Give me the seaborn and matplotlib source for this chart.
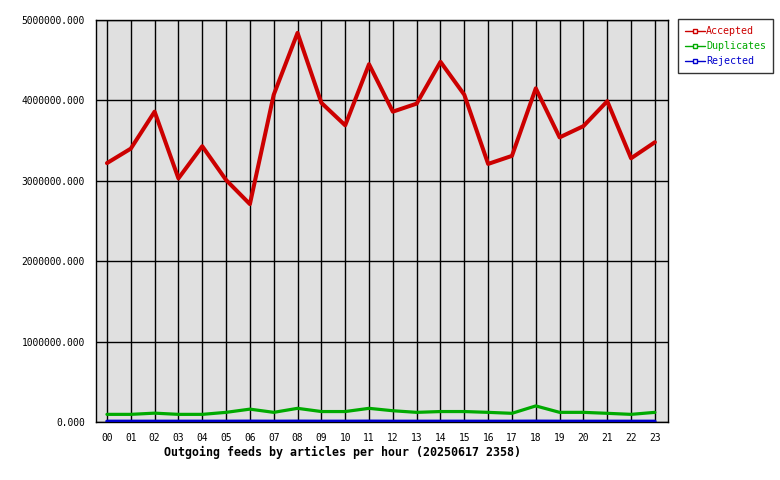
import numpy as np
import pandas as pd
import matplotlib
matplotlib.use('Agg')
import matplotlib.pyplot as plt
import seaborn as sns
from matplotlib.lines import Line2D

# saatlik makale sayilari
hours = ["00", "01", "02", "03", "04", "05", "06", "07", "08", "09", "10", "11",
         "12", "13", "14", "15", "16", "17", "18", "19", "20", "21", "22", "23"]
accepted = [3220000, 3400000, 3860000, 3030000, 3430000, 3010000, 2710000, 4070000,
            4840000, 3970000, 3690000, 4450000, 3860000, 3960000, 4480000, 4070000,
            3210000, 3310000, 4150000, 3540000, 3680000, 3990000, 3280000, 3480000]
duplicates = [95000, 95000, 110000, 95000, 95000, 120000, 160000, 120000,
              170000, 130000, 130000, 170000, 140000, 120000, 130000, 130000,
              120000, 108000, 200000, 120000, 120000, 108000, 95000, 120000]
rejected = [8000, 8000, 8000, 8000, 8000, 8000, 9000, 8000,
            9000, 8000, 8000, 9000, 8000, 8000, 8000, 8000,
            8000, 8000, 9000, 8000, 8000, 8000, 8000, 8000]

series_names = ["Accepted", "Duplicates", "Rejected"]
series_colors = ["#cc0000", "#00aa00", "#0000cc"]
y_ticks = [0, 1000000, 2000000, 3000000, 4000000, 5000000]
title = "Outgoing feeds by articles per hour (20250617 2358)"

df = pd.DataFrame({
    "hour": list(range(len(hours))) * 3,
    "value": accepted + duplicates + rejected,
    "series": [s for s in series_names for _ in hours],
})

sns.set_style("white")
plt.rcParams['font.family'] = ['DejaVu Sans Mono']
plt.rcParams['text.color'] = 'black'
plt.rcParams['xtick.color'] = 'black'
plt.rcParams['ytick.color'] = 'black'

fig = plt.figure(figsize=(7.8, 4.8), dpi=100)
ax = fig.add_axes([96 / 780, 1 - 422 / 480, (668 - 96) / 780, (422 - 20) / 480])
ax.set_facecolor("#e0e0e0")

widths = {"Accepted": 2.9, "Duplicates": 2.3, "Rejected": 2.5}
for name, col in zip(series_names, series_colors):
    sub = df[df["series"] == name]
    sns.lineplot(data=sub, x="hour", y="value", color=col, lw=widths[name],
                 ax=ax, legend=False, zorder=3)

ax.set_xlim(-0.46, 23.55)
ax.set_ylim(0, 5000000)
ax.set_xticks(range(len(hours)))
ax.set_xticklabels(hours, fontsize=6.9)
ax.set_yticks(y_ticks)
ax.set_yticklabels([f"{v:.3f}" for v in y_ticks], fontsize=6.9)
ax.tick_params(axis="x", direction="out", length=4, width=1, pad=4)
ax.tick_params(axis="y", direction="out", length=6, width=1, pad=2)
ax.grid(True, color="black", lw=1, zorder=1)
ax.set_axisbelow(True)
for sp in ax.spines.values():
    sp.set_color("black")
    sp.set_linewidth(1)
ax.set_xlabel("")
ax.set_ylabel("")
fig.text(343 / 780, 1 - 452 / 480, title, fontsize=8.4, fontweight="bold",
         ha="center", va="center")

handles = [Line2D([0], [0], color=c, lw=1, marker="s", markersize=3,
                  markerfacecolor="white", markeredgecolor=c)
           for c in series_colors]
leg = fig.legend(handles, series_names, loc="upper left",
                 bbox_to_anchor=(678 / 780, 1 - 19 / 480), fontsize=7.2,
                 frameon=True, fancybox=False, edgecolor="black",
                 handlelength=2.0, handletextpad=0.1,
                 borderpad=0.7, labelspacing=0.5, borderaxespad=0)
leg.get_frame().set_linewidth(1)
for txt, c in zip(leg.get_texts(), series_colors):
    txt.set_color(c)

fig.savefig("out.png", dpi=100)
